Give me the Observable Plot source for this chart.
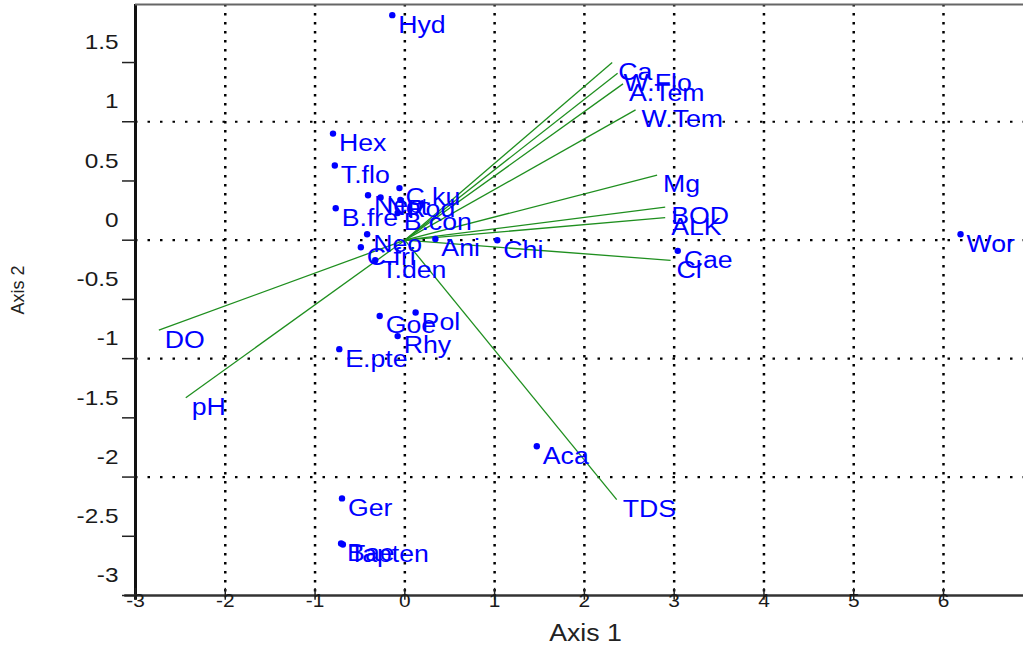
<!DOCTYPE html>
<html><head><meta charset="utf-8">
<script src="https://cdn.jsdelivr.net/npm/d3@7"></script>
<script src="https://cdn.jsdelivr.net/npm/@observablehq/plot@0.6"></script>
<style>body{margin:0;background:#fff} svg{display:block}</style>
</head><body><div id="chart"></div>
<script>
// Species scores
const speciesNames = ["Hyd","Hex","T.flo","C.ku","Nep","Not","Rod","B.fre","B.con","Neo","C.fri","T.den","Ani","Chi","Wor","Cae","Pol","Goe","Rhy","E.pte","Aca","Ger","Bae","Tapten"];
const speciesX = [-0.14,-0.80,-0.78,-0.06,-0.41,-0.27,-0.05,-0.77,-0.08,-0.42,-0.49,-0.33,0.34,1.03,6.19,3.04,0.12,-0.28,-0.08,-0.73,1.47,-0.70,-0.71,-0.69];
const speciesY = [1.90,0.90,0.63,0.44,0.38,0.36,0.34,0.27,0.23,0.05,-0.06,-0.17,0.01,0.00,0.05,-0.09,-0.61,-0.64,-0.81,-0.92,-1.74,-2.18,-2.56,-2.57];
// Environmental variable vectors (tips)
const envNames = ["Ca","W.Flo","A.Tem","W.Tem","Mg","BOD","ALK","Cl","TDS","DO","pH"];
const envX = [2.31,2.37,2.43,2.57,2.81,2.90,2.90,2.96,2.36,-2.74,-2.44];
const envY = [1.50,1.41,1.32,1.10,0.55,0.28,0.19,-0.17,-2.19,-0.76,-1.33];
// Axes
const xTicks = [-3,-2,-1,0,1,2,3,4,5,6];
const yTicks = [-3,-2.5,-2,-1.5,-1,-0.5,0,0.5,1,1.5];
const gridX = [-2,-1,0,1,2,3,4,5,6];
const gridY = [-2,-1,0,1];
const xTitle = "Axis 1";
const yTitle = "Axis 2";

const species = speciesNames.map((name, i) => ({name, x: speciesX[i], y: speciesY[i]}));
const env = envNames.map((name, i) => ({name, x0: 0, y0: 0, x: envX[i], y: envY[i]}));

const X0 = -3, X1 = 6.891, Y0 = -3, Y1 = 1.99;
const font = "'Liberation Sans', Arial, sans-serif";
const blue = "#0000ff";

const chart = Plot.plot({
  width: 1023, height: 648,
  marginLeft: 135, marginRight: 0, marginTop: 4, marginBottom: 53,
  x: {domain: [X0, X1], axis: null},
  y: {domain: [Y0, Y1], axis: null},
  style: {fontFamily: font, background: "#fff", overflow: "visible"},
  marks: [
    Plot.ruleX(gridX, {stroke: "#000", strokeWidth: 2.5, strokeDasharray: "2.5,6.5"}),
    Plot.ruleY(gridY, {stroke: "#000", strokeWidth: 2.2, strokeDasharray: "2.5,10"}),
    Plot.link(env, {x1: "x0", y1: "y0", x2: "x", y2: "y", stroke: "#1f8f1f", strokeWidth: 1.3}),
    Plot.dot(species, {x: "x", y: "y", r: 3.2, fill: blue}),
    Plot.text(species, {x: "x", y: "y", text: "name", textAnchor: "start", dx: 6, dy: 10, fontSize: 23, fill: blue, fontFamily: font}),
    Plot.text(env, {x: "x", y: "y", text: "name", textAnchor: "start", dx: 6, dy: 10, fontSize: 23, fill: blue, fontFamily: font}),
    // axis lines and frame
    Plot.ruleX([X0], {y1: Y0 - 0.04, y2: Y1, stroke: "#111", strokeWidth: 3}),
    Plot.ruleY([Y0], {x1: X0 - 0.12, x2: X1, stroke: "#333", strokeWidth: 2.5}),
    Plot.ruleY([Y1], {x1: X0, x2: X1, stroke: "#666", strokeWidth: 2}),
    // y ticks
    Plot.ruleY(yTicks, {x1: X0 - 0.145, x2: X0, stroke: "#222", strokeWidth: 1.5}),
    Plot.text(yTicks, {x: X0, y: d => d, text: d => String(d), textAnchor: "end", dx: -17, dy: -20, fontSize: 21, fill: "#1a1a1a", fontFamily: font}),
    // x ticks
    Plot.ruleX(xTicks, {y1: Y0 - 0.04, y2: Y0 + 0.06, stroke: "#222", strokeWidth: 1.5}),
    Plot.text(xTicks, {x: d => d, y: Y0, text: d => String(d), dy: 6, fontSize: 18, fill: "#1a1a1a", fontFamily: font}),
    // titles
    Plot.text([xTitle], {frameAnchor: "bottom", textAnchor: "middle", lineAnchor: "middle", dx: 6, dy: 38, fontSize: 23, fill: "#222", fontFamily: font}),
    Plot.text([yTitle], {frameAnchor: "left", textAnchor: "middle", lineAnchor: "middle", dx: -117, dy: -10, rotate: -90, fontSize: 18, fill: "#222", fontFamily: font})
  ]
});

// the reference's glyphs are horizontally stretched
chart.querySelectorAll("text").forEach(el => {
  const t = el.getAttribute("transform");
  if (t && !t.includes("rotate")) el.setAttribute("transform", t + " scale(1.16,1)");
});

document.getElementById("chart").appendChild(chart);
</script>
</body></html>
